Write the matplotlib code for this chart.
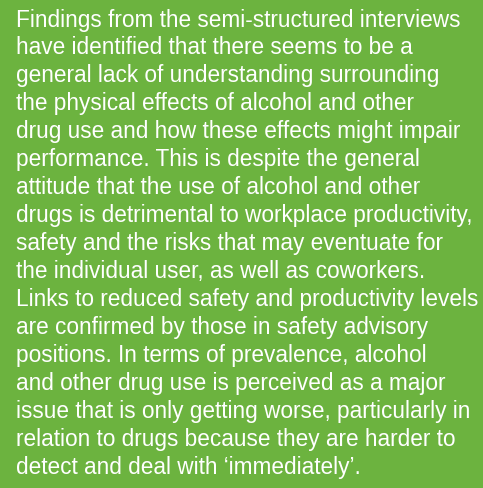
import matplotlib
matplotlib.use("Agg")
import matplotlib.pyplot as plt

BG = "#6cb33f"

lines = [
    "Findings from the semi-structured interviews",
    "have identified that there seems to be a",
    "general lack of understanding surrounding",
    "the physical effects of alcohol and other",
    "drug use and how these effects might impair",
    "performance. This is despite the general",
    "attitude that the use of alcohol and other",
    "drugs is detrimental to workplace productivity,",
    "safety and the risks that may eventuate for",
    "the individual user, as well as coworkers.",
    "Links to reduced safety and productivity levels",
    "are confirmed by those in safety advisory",
    "positions. In terms of prevalence, alcohol",
    "and other drug use is perceived as a major",
    "issue that is only getting worse, particularly in",
    "relation to drugs because they are harder to",
    "detect and deal with \u2018immediately\u2019.",
]

W, H = 483, 489
fig = plt.figure(figsize=(W / 100, H / 100), dpi=100)
fig.patch.set_facecolor(BG)

x0 = 16.5
y0 = 26.5
step = 27.95
for i, line in enumerate(lines):
    y = y0 + i * step
    fig.text(x0 / W, 1 - y / H, line, color="white", fontsize=16.25,
             family="Liberation Sans", ha="left", va="baseline")

fig.savefig("out.png", dpi=100, facecolor=BG)
